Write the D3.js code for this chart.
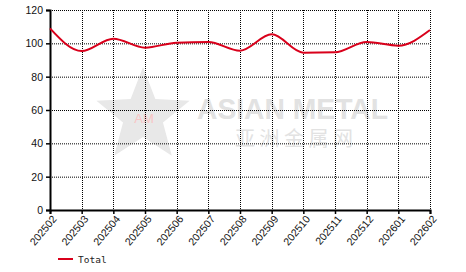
<!DOCTYPE html>
<html>
<head>
<meta charset="utf-8">
<script src="https://cdn.jsdelivr.net/npm/d3@7"></script>
<style>
body { margin: 0; background: #fff; }
svg { display: block; }
</style>
</head>
<body>
<svg id="chart" width="466" height="272"></svg>
<script>
var months = ['202502', '202503', '202504', '202505', '202506', '202507', '202508',
    '202509', '202510', '202511', '202512', '202601', '202602']
var totals = [109, 95.4, 102.8, 97.4, 100.4, 100.8, 95.6, 105.4, 94.4, 94.6, 100.8, 98.6, 108]
var yTicks = [0, 20, 40, 60, 80, 100, 120]
var seriesName = 'Total'

var svg = d3.select('#chart')
var plotLeft = 50, plotRight = 430, plotTop = 10, plotBottom = 210

var x = d3.scalePoint().domain(months).range([plotLeft, plotRight])
var y = d3.scaleLinear().domain([0, 120]).range([plotBottom, plotTop])

// watermark
var wm = svg.append('g')
var star = d3.range(10).map(function(i) {
    var a = -Math.PI / 2 + i * Math.PI / 5
    var r = i % 2 ? 21 : 49
    return [143 + r * Math.cos(a), 116 + r * Math.sin(a)]
})
wm.append('path')
    .attr('d', 'M' + star.join('L') + 'Z')
    .attr('fill', '#e8e8e8')
wm.append('text').attr('x', 144).attr('y', 123).attr('text-anchor', 'middle')
    .attr('font-family', 'Liberation Sans, Arial, sans-serif').attr('font-size', 13)
    .attr('fill', '#f9c4c4').text('AM')
wm.append('text').attr('x', 197).attr('y', 119)
    .attr('font-family', 'Liberation Sans, Arial, sans-serif').attr('font-weight', 'bold')
    .attr('font-size', 29).attr('textLength', 191).attr('lengthAdjust', 'spacingAndGlyphs')
    .attr('fill', '#e2e2e2').text('ASIAN METAL')
wm.append('text').attr('x', 235).attr('y', 146)
    .attr('font-family', 'Noto Sans CJK SC').attr('font-size', 20)
    .attr('textLength', 118).attr('fill', '#e2e2e2').text('亚洲金属网')

// grid
svg.append('g').selectAll('line').data(yTicks.filter(d => d > 0)).enter().append('line')
    .attr('x1', plotLeft).attr('x2', plotRight)
    .attr('y1', d => y(d) + 0.5).attr('y2', d => y(d) + 0.5)
    .attr('stroke', '#000').attr('stroke-dasharray', '1,1')
svg.append('g').selectAll('line').data(months.slice(1)).enter().append('line')
    .attr('x1', d => Math.round(x(d)) + 0.5).attr('x2', d => Math.round(x(d)) + 0.5)
    .attr('y1', plotTop).attr('y2', plotBottom)
    .attr('stroke', '#000').attr('stroke-dasharray', '1,1')

// axes
var yAxis = svg.append('g').attr('transform', 'translate(' + plotLeft + ',0)')
    .call(d3.axisLeft(y).tickValues(yTicks).tickSize(4).tickPadding(3))
var xAxis = svg.append('g').attr('transform', 'translate(0,' + plotBottom + ')')
    .call(d3.axisBottom(x).tickSize(4).tickPadding(3))
;[yAxis, xAxis].forEach(function(g) {
    g.select('.domain').attr('stroke-width', 2)
    g.selectAll('.tick line').attr('stroke-width', 1.5)
    g.selectAll('text').attr('font-family', 'Liberation Sans, Arial, sans-serif')
        .attr('font-size', 10.5).attr('fill', '#111')
})
xAxis.selectAll('.tick text')
    .attr('text-anchor', 'end')
    .attr('dy', '0.35em')
    .attr('transform', 'translate(4,7) rotate(-50)')
    .attr('x', 0).attr('y', 0)

// series
var line = d3.line()
    .x((d, i) => x(months[i]))
    .y(d => y(d))
    .curve(d3.curveMonotoneX)
svg.append('path').datum(totals)
    .attr('d', line)
    .attr('fill', 'none')
    .attr('stroke', '#d9001b')
    .attr('stroke-width', 2)

// legend
var lg = svg.append('g').attr('transform', 'translate(58,259)')
lg.append('line').attr('x1', 0).attr('x2', 15).attr('stroke', '#d9001b').attr('stroke-width', 2)
lg.append('text').attr('x', 20).attr('y', 4)
    .attr('font-family', 'DejaVu Sans Mono, monospace').attr('font-size', 9.5)
    .attr('fill', '#222').text(seriesName)
</script>
</body>
</html>
